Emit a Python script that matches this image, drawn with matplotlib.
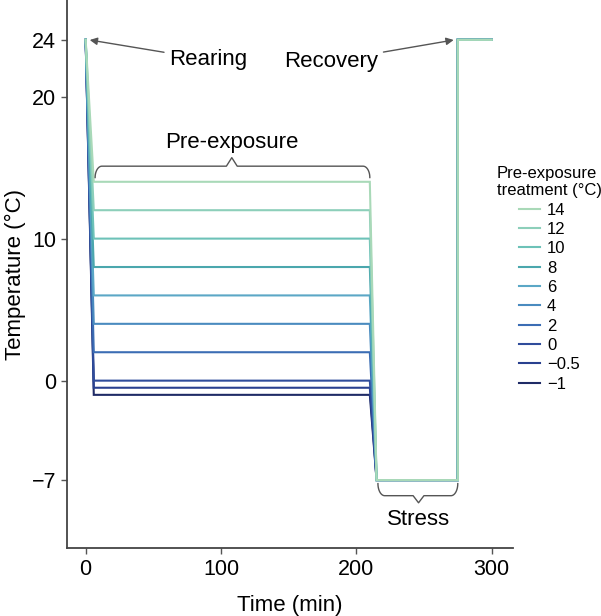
import numpy as np
import matplotlib
matplotlib.use("Agg")
import matplotlib.pyplot as plt

plt.rcParams['font.family'] = ['Liberation Sans', 'DejaVu Sans']

treatments = [14, 12, 10, 8, 6, 4, 2, 0, -0.5, -1]
labels = ["14", "12", "10", "8", "6", "4", "2", "0", "\u22120.5", "\u22121"]
colors = ["#a9d9b8", "#8dcfba", "#6dc2b8", "#4ba7ad", "#5ba7c6", "#4a8bbf",
          "#3b6db4", "#2f4c9b", "#29408f", "#1f2b66"]
times = [0, 6, 210, 215, 275, 275, 300]
rearing_temp = 24
stress_temp = -7
recovery_temp = 24

fig = plt.figure(figsize=(6.01, 6.16), dpi=100)
ax = fig.add_axes([0.111, 0.110, 0.743, 0.890])

handles = []
for T, lab, c in reversed(list(zip(treatments, labels, colors))):
    temps = [rearing_temp, T, T, stress_temp, stress_temp, recovery_temp, recovery_temp]
    h, = ax.plot(times, temps, color=c, lw=1.5, label=lab, solid_joinstyle='miter')
    handles.append(h)
handles = handles[::-1]

ax.set_xlim(-14, 316)
ax.set_ylim(-11.8, 26.8)
ax.set_xticks([0, 100, 200, 300])
ax.set_yticks([-7, 0, 10, 20, 24])
ax.set_yticklabels(["\u22127", "0", "10", "20", "24"])
ax.tick_params(labelsize=15.5, length=4, width=1, color="#555555", colors="black")
ax.tick_params(axis='both', which='both', color="#555555")
for s in ["top", "right"]:
    ax.spines[s].set_visible(False)
for s in ["left", "bottom"]:
    ax.spines[s].set_color("#444444")
    ax.spines[s].set_linewidth(1.3)
ax.set_xlabel("Time (min)", fontsize=16, labelpad=11)
ax.set_ylabel("Temperature (\u00b0C)", fontsize=16, labelpad=4)


def brace(x0, x1, xm, y_end, y_line, y_tip, rx=5.0):
    ry = y_line - y_end
    th = np.linspace(np.pi, np.pi / 2, 20)
    left_x = x0 + rx + rx * np.cos(th)
    left_y = y_end + ry * np.sin(th)
    th2 = np.linspace(np.pi / 2, 0, 20)
    right_x = x1 - rx + rx * np.cos(th2)
    right_y = y_end + ry * np.sin(th2)
    w = 4.0
    mid_x = [xm - w, xm, xm + w]
    mid_y = [y_line, y_tip, y_line]
    xs = np.concatenate([left_x, mid_x, right_x])
    ys = np.concatenate([left_y, mid_y, right_y])
    ax.plot(xs, ys, color="#555555", lw=1.0, clip_on=False)


brace(7, 210, 108, 14.3, 15.1, 15.7)
brace(216, 275, 246, -7.25, -8.1, -8.6)
ax.text(108, 16.8, "Pre-exposure", ha="center", va="center", fontsize=16)
ax.text(246, -9.8, "Stress", ha="center", va="center", fontsize=16)

arrowprops = dict(arrowstyle="-|>", color="#555555", lw=1.0, mutation_scale=11,
                  shrinkA=2, shrinkB=1)
ax.annotate("Rearing", xy=(2, 24), xytext=(62, 22.6), fontsize=16,
            ha="left", va="center", arrowprops=arrowprops)
ax.annotate("Recovery", xy=(273, 24), xytext=(216, 22.5), fontsize=16,
            ha="right", va="center", arrowprops=arrowprops)

leg = fig.legend(handles=handles, labels=labels, title="Pre-exposure\ntreatment (\u00b0C)",
                 loc="upper center", bbox_to_anchor=(0.914, 0.755), frameon=False,
                 fontsize=12, title_fontsize=12, handlelength=1.3, handletextpad=0.4,
                 labelspacing=0.26)
leg._legend_box.align = "center"

fig.savefig("out.png", dpi=100)
